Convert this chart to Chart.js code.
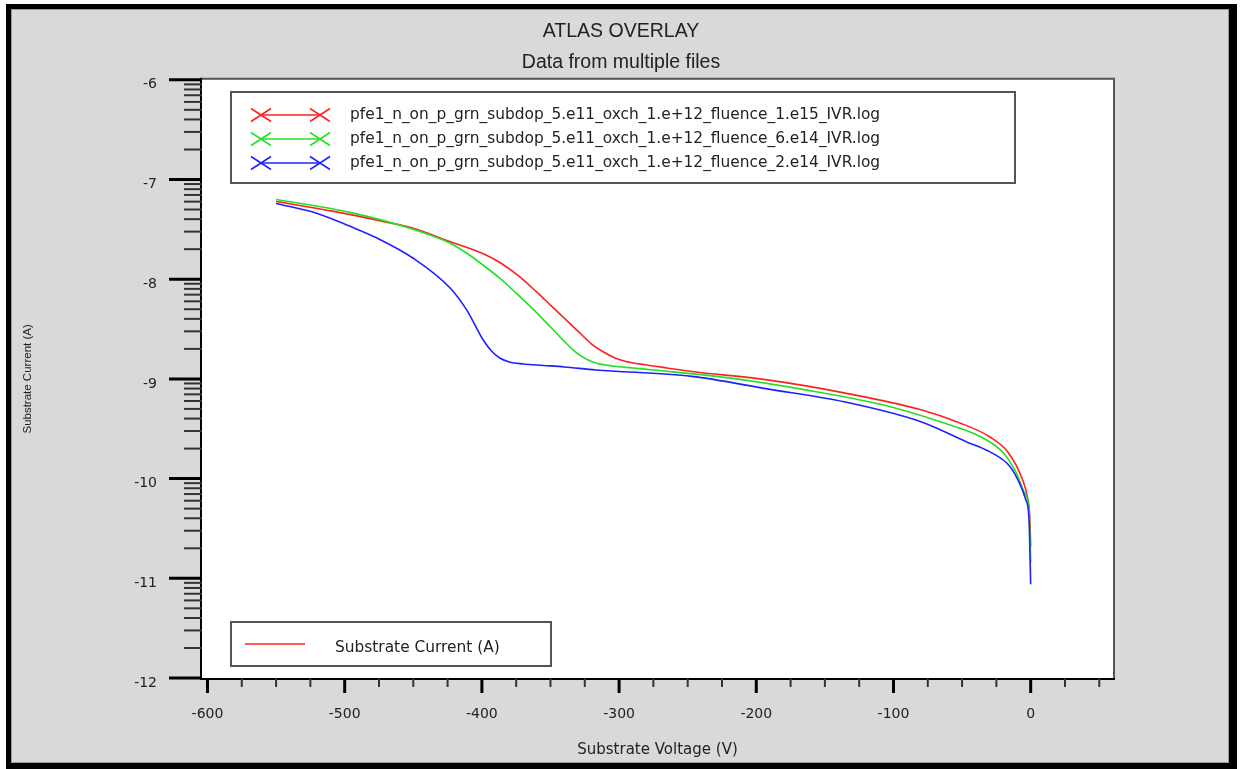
<!DOCTYPE html>
<html>
<head>
<meta charset="utf-8">
<style>
  html, body { margin: 0; padding: 0; background: #fff; }
  #wrap { width: 1242px; height: 769px; position: relative; }
  canvas { display: block; }
</style>
<script src="https://cdn.jsdelivr.net/npm/chart.js@4.4.1/dist/chart.umd.min.js"></script>
</head>
<body>
<div id="wrap"><canvas id="c" width="1242" height="769"></canvas></div>
<script>
// ---- data (log10 of substrate current vs substrate voltage) ----
const seriesLabels = [
  'pfe1_n_on_p_grn_subdop_5.e11_oxch_1.e+12_fluence_1.e15_IVR.log',
  'pfe1_n_on_p_grn_subdop_5.e11_oxch_1.e+12_fluence_6.e14_IVR.log',
  'pfe1_n_on_p_grn_subdop_5.e11_oxch_1.e+12_fluence_2.e14_IVR.log'
];
const seriesColors = ['#ff2020', '#22e022', '#2020ff'];

const xRed = [-550, -508, -472, -450, -424, -399, -386, -373, -360, -350, -340, -330, -320, -312, -303, -295, -280, -265, -247, -192, -136, -80, -52, -30, -16, -6, -2, -0.7, 0];
const yRed = [-7.22, -7.32, -7.42, -7.49, -7.62, -7.745, -7.84, -7.97, -8.13, -8.26, -8.39, -8.52, -8.65, -8.725, -8.79, -8.825, -8.86, -8.89, -8.925, -9.01, -9.14, -9.31, -9.44, -9.58, -9.745, -10.01, -10.21, -10.38, -10.68];

const xGreen = [-550, -496, -450, -423, -411, -399, -387, -375, -362, -350, -338, -331, -324, -317, -305, -290, -275, -220, -164, -108, -66, -35, -20, -10.4, -4.4, -1.2, 0];
const yGreen = [-7.20, -7.33, -7.50, -7.64, -7.74, -7.86, -7.99, -8.14, -8.31, -8.48, -8.65, -8.74, -8.80, -8.84, -8.87, -8.89, -8.91, -8.99, -9.11, -9.26, -9.43, -9.59, -9.74, -9.945, -10.145, -10.31, -10.84];

const xBlue = [-550, -520, -496, -476, -450, -423, -411, -399, -393, -387, -380, -370, -355, -340, -317, -247, -192, -136, -80, -47, -30, -15, -8, -3.6, -1.2, 0];
const yBlue = [-7.24, -7.34, -7.47, -7.59, -7.79, -8.09, -8.31, -8.61, -8.72, -8.79, -8.83, -8.85, -8.865, -8.88, -8.91, -8.975, -9.10, -9.23, -9.43, -9.63, -9.73, -9.88, -10.05, -10.21, -10.41, -11.06];

const xTicks = [-600, -500, -400, -300, -200, -100, 0];
const xMinorStep = 25;
const yTicks = [-12, -11, -10, -9, -8, -7, -6];
const yMinorMultipliers = [2, 3, 4, 5, 6, 7, 8, 9];

const chartTitle = 'ATLAS OVERLAY';
const chartSubtitle = 'Data from multiple files';
const xTitle = 'Substrate Voltage (V)';
const yTitle = 'Substrate Current (A)';

const FONT = 'DejaVu Sans';

function pts(xs, ys) { return xs.map((x, i) => ({ x: x, y: ys[i] })); }

const framePlugin = {
  id: 'frame',
  beforeDraw(chart) {
    const { ctx, width, height, chartArea: a } = chart;
    ctx.save();
    ctx.fillStyle = '#ffffff';
    ctx.fillRect(0, 0, width, height);
    ctx.fillStyle = '#000000';
    ctx.fillRect(6, 4, 1231, 765);
    ctx.fillStyle = '#d9d9d9';
    ctx.fillRect(11, 9, 1218, 754);
    ctx.strokeStyle = '#9a9a9a';
    ctx.lineWidth = 1;
    ctx.strokeRect(11.5, 9.5, 1217, 753);
    ctx.fillStyle = '#ffffff';
    ctx.fillRect(a.left, a.top, a.right - a.left, a.bottom - a.top);
    ctx.restore();
  },
  afterDraw(chart) {
    const { ctx, chartArea: a } = chart;
    const xs = chart.scales.x, ys = chart.scales.y;
    ctx.save();
    // plot borders
    ctx.lineWidth = 2;
    ctx.strokeStyle = '#555555';
    ctx.beginPath();
    ctx.moveTo(a.left, a.top - 1); ctx.lineTo(a.right + 1, a.top - 1); ctx.lineTo(a.right + 1, a.bottom);
    ctx.stroke();
    ctx.strokeStyle = '#000000';
    ctx.beginPath();
    ctx.moveTo(a.left - 1, a.top - 2); ctx.lineTo(a.left - 1, a.bottom + 1); ctx.lineTo(a.right + 2, a.bottom + 1);
    ctx.stroke();

    // y ticks
    for (const v of yTicks) {
      const p = ys.getPixelForValue(v);
      ctx.strokeStyle = '#000'; ctx.lineWidth = 3;
      ctx.beginPath(); ctx.moveTo(a.left - 33, p); ctx.lineTo(a.left, p); ctx.stroke();
      if (v < yTicks[yTicks.length - 1]) {
        for (const k of yMinorMultipliers) {
          const pm = ys.getPixelForValue(v + Math.log10(k));
          ctx.strokeStyle = '#333'; ctx.lineWidth = 2;
          ctx.beginPath(); ctx.moveTo(a.left - 18, pm); ctx.lineTo(a.left, pm); ctx.stroke();
        }
      }
    }
    // x ticks
    for (let v = xTicks[0]; v <= xs.max; v += xMinorStep) {
      const p = xs.getPixelForValue(v);
      const major = xTicks.includes(v);
      ctx.strokeStyle = major ? '#000' : '#333';
      ctx.lineWidth = major ? 3 : 2;
      ctx.beginPath(); ctx.moveTo(p, a.bottom); ctx.lineTo(p, a.bottom + (major ? 15 : 9)); ctx.stroke();
    }

    // legend 1 (series)
    ctx.strokeStyle = '#555555'; ctx.lineWidth = 2;
    ctx.strokeRect(231, 92, 784, 91);
    const rows = [115, 139, 163];
    ctx.font = '15.4px "' + FONT + '"';
    ctx.textBaseline = 'middle';
    ctx.textAlign = 'left';
    chart.data.datasets.forEach((ds, i) => {
      const y = rows[i];
      ctx.strokeStyle = ds.borderColor; ctx.lineWidth = 1.5;
      ctx.beginPath(); ctx.moveTo(261, y); ctx.lineTo(320, y); ctx.stroke();
      for (const cx of [261, 320]) {
        ctx.beginPath();
        ctx.moveTo(cx - 10, y - 6.5); ctx.lineTo(cx + 10, y + 6.5);
        ctx.moveTo(cx - 10, y + 6.5); ctx.lineTo(cx + 10, y - 6.5);
        ctx.stroke();
      }
      ctx.fillStyle = '#222';
      ctx.fillText(ds.label, 350, y);
    });

    // legend 2 (quantity)
    ctx.strokeStyle = '#555555'; ctx.lineWidth = 2;
    ctx.strokeRect(231, 622, 320, 44);
    ctx.strokeStyle = seriesColors[0]; ctx.lineWidth = 1.5;
    ctx.beginPath(); ctx.moveTo(245, 644); ctx.lineTo(305, 644); ctx.stroke();
    ctx.fillStyle = '#222';
    ctx.fillText(yTitle, 335, 648);
    ctx.restore();
  }
};

const ctxEl = document.getElementById('c');
new Chart(ctxEl, {
  type: 'scatter',
  data: {
    datasets: [
      { label: seriesLabels[0], data: pts(xRed, yRed), borderColor: seriesColors[0], order: 3 },
      { label: seriesLabels[1], data: pts(xGreen, yGreen), borderColor: seriesColors[1], order: 2 },
      { label: seriesLabels[2], data: pts(xBlue, yBlue), borderColor: seriesColors[2], order: 1 }
    ].map(d => Object.assign(d, { showLine: true, pointRadius: 0, borderWidth: 1.6, cubicInterpolationMode: 'monotone', fill: false }))
  },
  options: {
    responsive: false,
    devicePixelRatio: 1,
    animation: false,
    layout: { padding: 0 },
    plugins: {
      legend: { display: false },
      tooltip: { enabled: false },
      title: {
        display: true, text: chartTitle, color: '#222',
        font: { family: 'Liberation Sans', size: 19.5, weight: 'normal' },
        padding: { top: 20, bottom: 8 }
      },
      subtitle: {
        display: true, text: chartSubtitle, color: '#222',
        font: { family: 'Liberation Sans', size: 19.5, weight: 'normal' },
        padding: { top: 0, bottom: 5 }
      }
    },
    scales: {
      x: {
        type: 'linear', position: 'bottom', min: -604, max: 60,
        grid: { display: false, drawTicks: false },
        border: { display: false },
        afterBuildTicks: (s) => { s.ticks = xTicks.map(v => ({ value: v })); },
        afterFit: (s) => { s.height = 91; },
        ticks: {
          autoSkip: false, maxRotation: 0, padding: 28, color: '#222',
          font: { family: FONT, size: 14 },
          callback: (v) => String(v)
        },
        title: {
          display: true, text: xTitle, color: '#222',
          font: { family: FONT, size: 15 },
          padding: { top: 0, bottom: 10 }
        }
      },
      y: {
        type: 'linear', position: 'left', min: -12, max: -6,
        grid: { display: false, drawTicks: false },
        border: { display: false },
        afterBuildTicks: (s) => { s.ticks = yTicks.map(v => ({ value: v })); },
        afterFit: (s) => { s.width = 202; },
        ticks: {
          autoSkip: false, padding: 45, labelOffset: 5, color: '#222',
          font: { family: FONT, size: 14 },
          callback: (v) => String(v)
        },
        title: {
          display: true, text: yTitle, color: '#222',
          font: { family: 'Liberation Sans', size: 11.5 },
          padding: { top: 21, bottom: 0 }
        }
      },
      yR: {
        type: 'linear', position: 'right',
        grid: { display: false, drawTicks: false },
        border: { display: false },
        ticks: { display: false },
        afterFit: (s) => { s.width = 129; }
      }
    }
  },
  plugins: [framePlugin]
});
</script>
</body>
</html>
